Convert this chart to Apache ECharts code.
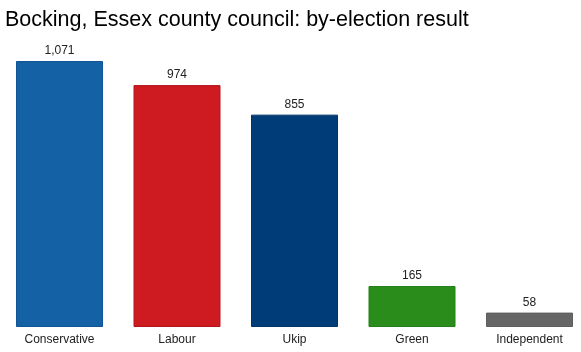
<!DOCTYPE html>
<html><head><meta charset="utf-8">
<script src="https://cdn.jsdelivr.net/npm/echarts@6/dist/echarts.min.js"></script>
<style>html,body{margin:0;padding:0;background:#fff}#c{width:581px;height:352px}</style>
</head><body><div id="c"></div>
<script>
const categories = ["Conservative", "Labour", "Ukip", "Green", "Independent"];
const votes = [1071, 974, 855, 165, 58];
const colors = ["#1461a6", "#cd1b21", "#003c77", "#2a8c1b", "#666666"];
const borders = ["#0f5596", "#b5141a", "#00356a", "#23801a", "#5e5e5e"];

const chart = echarts.init(document.getElementById('c'));
chart.setOption({
  animation: false,
  title: {
    text: "Bocking, Essex county council: by-election result",
    left: 0, top: 4,
    textStyle: { fontFamily: "Liberation Sans, Arial, sans-serif", fontSize: 21.5, fontWeight: "normal", color: "#000" }
  },
  grid: { left: 59.5, right: 51.5, top: 61, bottom: 25, containLabel: false },
  xAxis: {
    type: "category", data: categories, boundaryGap: false,
    axisLine: { show: false }, axisTick: { show: false },
    axisLabel: { color: "#222", fontSize: 12, fontFamily: "Liberation Sans, Arial, sans-serif", margin: 7 }
  },
  yAxis: { type: "value", min: 0, max: 1071, show: false, splitLine: { show: false } },
  series: [{
    type: "bar", barWidth: 87,
    data: votes.map((v, i) => ({ value: v, itemStyle: { color: colors[i], borderColor: borders[i], borderWidth: 1 } })),
    label: {
      show: true, position: "top", distance: 4, color: "#222", fontSize: 12,
      fontFamily: "Liberation Sans, Arial, sans-serif",
      formatter: p => p.value.toLocaleString("en-US")
    }
  }]
});
</script></body></html>
